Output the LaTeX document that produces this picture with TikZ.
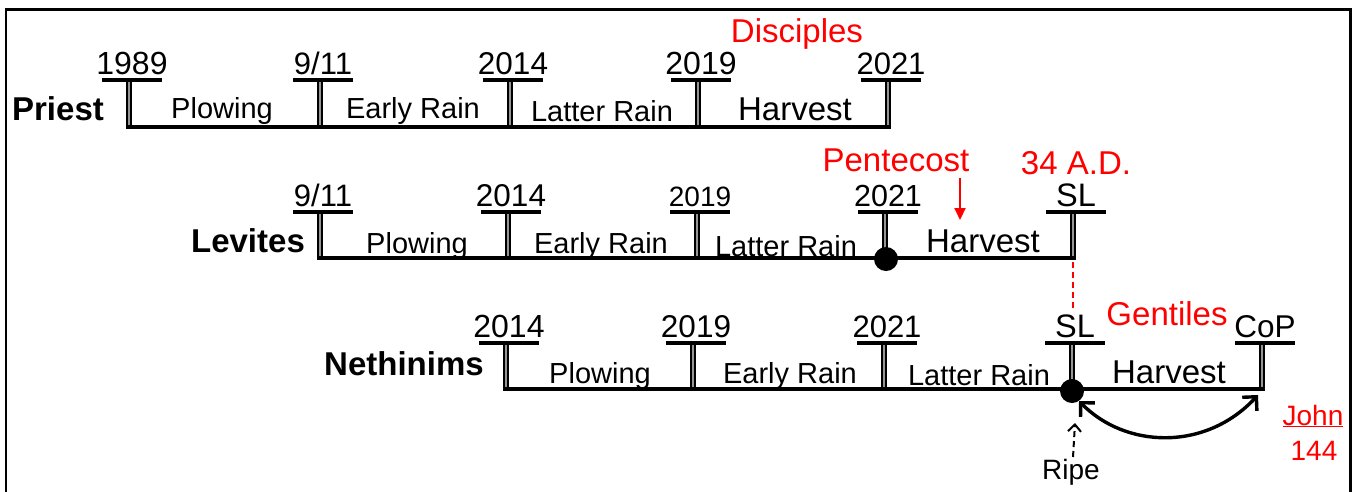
\documentclass[tikz,border=0pt]{standalone}
\usepackage{fontspec}
\setmainfont{Liberation Sans}
\usetikzlibrary{arrows.meta}
\definecolor{tickgray}{RGB}{150,150,150}
\definecolor{redtxt}{RGB}{255,0,0}
\tikzset{
  tickouter/.style={line width=6pt, black},
  tickinner/.style={line width=2.4pt, tickgray},
  barline/.style={line width=4pt, black},
  mainline/.style={line width=4pt, black},
  yearlbl/.style={anchor=base, inner sep=0pt},
  phase/.style={anchor=base, inner sep=0pt, font=\fontsize{29}{34}\selectfont},
  harv/.style={anchor=base, inner sep=0pt, font=\fontsize{33}{38}\selectfont},
  rowlbl/.style={anchor=base, inner sep=0pt, font=\bfseries\fontsize{33}{38}\selectfont},
  redlbl/.style={anchor=base, inner sep=0pt, text=redtxt, font=\fontsize{33}{38}\selectfont},
  dot/.style={circle, fill=black, inner sep=0pt, minimum size=24pt},
  curvearrow/.style={line width=3.4pt, {Straight Barb[length=10pt,width=20pt,line width=3.4pt]}-{Straight Barb[length=10pt,width=20pt,line width=3.4pt]}},
  ripearrow/.style={line width=2pt, dash pattern=on 6pt off 4pt, -{Straight Barb[length=7pt,width=13pt,line width=2pt]}},
  penarrow/.style={line width=2pt, redtxt, -{Triangle[length=12pt,width=11pt]}},
  reddash/.style={line width=2pt, redtxt, dash pattern=on 6pt off 4pt},
}
\newcommand\tlmark[6]{%
  \coordinate (#1t) at (#2,#3);
  \coordinate (#1b) at (#2,#4);
  \draw[tickouter] (#1t) -- (#1b);
  \draw[tickinner] (#1t) -- (#1b);
  \node[yearlbl, font=\fontsize{#6}{#6}\selectfont] (#1l) at (#2+3,#3-6) {#5};
  \draw[barline] ([xshift=-27pt]#1t) -- ([xshift=33pt]#1t);
}
\begin{document}
\begin{tikzpicture}[x=1pt,y=-1pt]
\useasboundingbox (0,0) rectangle (1356,491);
% frame
\draw[line width=2.5pt] (6,492) -- (6,9.5);
\draw[line width=3pt] (4.75,9.5) -- (1351.5,9.5);
\draw[line width=3pt] (1350,8) -- (1350,492);

% Priest row
\tlmark{p1}{129}{80}{127}{1989}{32}
\tlmark{p2}{320}{80}{127}{9/11}{31}
\tlmark{p3}{510}{80}{127}{2014}{31.5}
\tlmark{p4}{698}{80}{127}{2019}{32}
\tlmark{p5}{888}{80}{127}{2021}{31}
\draw[mainline] ([xshift=-3pt]p1b) -- ([xshift=3pt]p5b);
\node[rowlbl] (priest) at (58,120) {Priest};
\node[phase] (pplow) at (222,118) {Plowing};
\node[phase] (pearly) at (413,118) {Early Rain};
\node[phase] (platter) at (602,121) {Latter Rain};
\node[harv] (pharv) at (795,120) {Harvest};
\node[redlbl] (disc) at (797,42) {Disciples};

% Levites row
\tlmark{l1}{320}{212}{258}{9/11}{31}
\tlmark{l2}{508}{212}{258}{2014}{31.5}
\tlmark{l3}{697}{212}{258}{2019}{28}
\tlmark{l4}{885}{212}{258}{2021}{30.5}
\tlmark{l5}{1073}{212}{258}{SL}{32.5}
\draw[mainline] ([xshift=-3pt]l1b) -- ([xshift=3pt]l5b);
\node[dot] (ldot) at (886,259) {};
\node[rowlbl] (levites) at (248,252) {Levites};
\node[phase] (lplow) at (417,253) {Plowing};
\node[phase] (learly) at (601,253) {Early Rain};
\node[phase] (llatter) at (786,256) {Latter Rain};
\node[harv] (lharv) at (983,252) {Harvest};
\node[redlbl] (pent) at (896,171) {Pentecost};
\node[redlbl] (ad) at (1076,174) {34 A.D.};
\coordinate (penA) at (960,178);
\coordinate (penB) at (960,220);
\draw[penarrow] (penA) -- (penB);

% Nethinims row
\tlmark{n1}{506}{343}{389}{2014}{32}
\tlmark{n2}{693}{343}{389}{2019}{31.5}
\tlmark{n3}{884}{343}{389}{2021}{31}
\tlmark{n4}{1072}{343}{389}{SL}{32.5}
\tlmark{n5}{1262}{343}{389}{CoP}{31.5}
\draw[mainline] ([xshift=-3pt]n1b) -- ([xshift=3pt]n5b);
\node[dot] (ndot) at (1072,391) {};
\node[rowlbl] (neth) at (404,375) {Nethinims};
\node[phase] (nplow) at (600,383) {Plowing};
\node[phase] (nearly) at (790,383) {Early Rain};
\node[phase] (nlatter) at (979,385) {Latter Rain};
\node[harv] (nharv) at (1169,383) {Harvest};
\node[redlbl] (gent) at (1167,325) {Gentiles};
\node[anchor=base, inner sep=0pt, text=redtxt, font=\fontsize{28}{32}\selectfont] (john) at (1313,425) {\underline{John}};
\node[anchor=base, inner sep=0pt, text=redtxt, font=\fontsize{28}{32}\selectfont] (num) at (1314,460) {144};

% red dashed link SL-SL
\coordinate (dashA) at (1073,262);
\coordinate (dashB) at (1073,308);
\draw[reddash] (dashA) -- (dashB);

% curved double arrow
\coordinate (harvEnd) at (1258,395);
\draw[curvearrow] (ndot.-55) .. controls (1125,448) and (1205,452) .. (harvEnd);

% Ripe
\node[anchor=base, inner sep=0pt, font=\fontsize{28}{32}\selectfont] (ripe) at (1071,479) {Ripe};
\coordinate (ripeStart) at (1073,457);
\coordinate (ripeTip) at (1075,423);
\draw[ripearrow] (ripeStart) -- (ripeTip);
\end{tikzpicture}
\end{document}
